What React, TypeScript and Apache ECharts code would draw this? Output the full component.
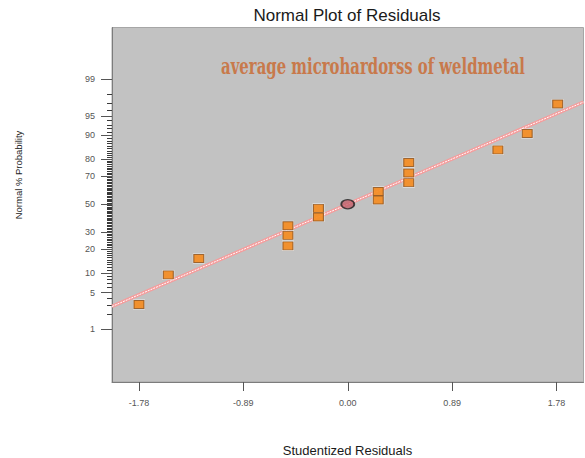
import React, { useEffect, useRef } from "react";
import * as echarts from "echarts";

// Studentized residuals of the runs, in rank order
const residuals = [
  -1.78, -1.53, -1.27, -0.51, -0.51, -0.51, -0.25, -0.25,
  0.26, 0.26, 0.52, 0.52, 0.52, 1.28, 1.53, 1.79,
];
// Normal % probability assigned to each ranked residual
const probabilities = [
  3.1, 9.4, 15.6, 21.9, 28.1, 34.4, 40.6, 46.9,
  53.1, 59.4, 65.6, 71.9, 78.1, 84.4, 90.6, 96.9,
];
// Highlighted centre point
const centreResidual = [0];
const centreProbability = [50];
// Reference line end points
const fitResiduals = [-2.01, 2.01];
const fitProbabilities = [2.85, 97.15];

// Axis ticks
const xTickValues = [-1.78, -0.89, 0, 0.89, 1.78];
const yLabelPercents = [1, 5, 10, 20, 30, 50, 70, 80, 90, 95, 99];
const yMinorPercents = Array.from({ length: 99 }, (_, i) => i + 1);

// Inverse of the standard normal CDF (Acklam's approximation)
function probit(p: number): number {
  const a = [-39.69683028665376, 220.9460984245205, -275.9285104469687, 138.357751867269, -30.66479806614716, 2.506628277459239];
  const b = [-54.47609879822406, 161.5858368580409, -155.6989798598866, 66.80131188771972, -13.28068155288572];
  const c = [-0.007784894002430293, -0.3223964580411365, -2.400758277161838, -2.549671348283508, 4.374664141464968, 2.938163982698783];
  const d = [0.007784695709041462, 0.3224671290700398, 2.445134137142996, 3.754408661907416];
  const plow = 0.02425;
  if (p < plow) {
    const q = Math.sqrt(-2 * Math.log(p));
    return (((((c[0] * q + c[1]) * q + c[2]) * q + c[3]) * q + c[4]) * q + c[5]) /
      ((((d[0] * q + d[1]) * q + d[2]) * q + d[3]) * q + 1);
  }
  if (p <= 1 - plow) {
    const q = p - 0.5;
    const r = q * q;
    return ((((((a[0] * r + a[1]) * r + a[2]) * r + a[3]) * r + a[4]) * r + a[5]) * q) /
      (((((b[0] * r + b[1]) * r + b[2]) * r + b[3]) * r + b[4]) * r + 1);
  }
  const q = Math.sqrt(-2 * Math.log(1 - p));
  return -(((((c[0] * q + c[1]) * q + c[2]) * q + c[3]) * q + c[4]) * q + c[5]) /
    ((((d[0] * q + d[1]) * q + d[2]) * q + d[3]) * q + 1);
}

const toScore = (pct: number) => probit(pct / 100);

export default function App() {
  const ref = useRef<HTMLDivElement>(null);

  useEffect(() => {
    if (!ref.current) return;
    const chart = echarts.init(ref.current, null, { renderer: "svg" });

    const majorZ = yLabelPercents.map(toScore);
    const minorZ = yMinorPercents.map(toScore);
    const points = residuals.map((r, i) => [r, toScore(probabilities[i])]);
    const centre = centreResidual.map((r, i) => [r, toScore(centreProbability[i])]);
    const fit = fitResiduals.map((r, i) => [r, toScore(fitProbabilities[i])]);

    const sans = "'Liberation Sans', Arial, sans-serif";
    const yMin = -3.31;
    const yMax = 3.29;

    chart.setOption({
      animation: false,
      backgroundColor: "#ffffff",
      grid: {
        left: 112,
        top: 27.5,
        right: 1.5,
        bottom: 76,
        show: true,
        backgroundColor: "#c2c2c2",
        borderColor: "#a6a6a6",
        borderWidth: 1,
      },
      xAxis: {
        type: "value",
        min: -2.01,
        max: 2.01,
        axisLine: { show: true, onZero: false, lineStyle: { color: "#7c7c7c", width: 1 } },
        axisTick: {
          show: true,
          customValues: xTickValues,
          length: 9,
          lineStyle: { color: "#555555" },
        },
        axisLabel: {
          customValues: xTickValues,
          formatter: (v: number) => v.toFixed(2),
          fontSize: 9,
          color: "#555555",
          fontFamily: sans,
          margin: 16,
        },
        splitLine: { show: false },
      },
      yAxis: [
        {
          // percentage ticks every 1 %
          type: "value",
          min: yMin,
          max: yMax,
          position: "left",
          axisLine: { show: true, onZero: false, lineStyle: { color: "#7c7c7c", width: 1 } },
          axisTick: {
            show: true,
            interval: 0,
            customValues: minorZ,
            length: 5,
            lineStyle: { color: "#3a3a3a" },
          },
          axisLabel: {
            show: true,
            customValues: minorZ,
            formatter: () => "",
          },
          splitLine: { show: false },
        },
        {
          // labelled percentages
          type: "value",
          min: yMin,
          max: yMax,
          position: "left",
          offset: 0,
          axisLine: { show: false, onZero: false },
          axisTick: {
            show: true,
            customValues: majorZ,
            length: 11,
            lineStyle: { color: "#555555" },
          },
          axisLabel: {
            customValues: majorZ,
            formatter: (v: number) => {
              const i = majorZ.findIndex((z) => Math.abs(z - v) < 1e-6);
              return i >= 0 ? String(yLabelPercents[i]) : "";
            },
            fontSize: 9,
            color: "#555555",
            fontFamily: sans,
            margin: 17,
          },
          splitLine: { show: false },
        },
      ],
      series: [
        {
          type: "line",
          data: fit,
          symbol: "none",
          silent: true,
          lineStyle: { color: "#f59c9c", width: 3.5 },
          z: 2,
        },
        {
          type: "line",
          data: fit,
          symbol: "none",
          silent: true,
          lineStyle: { color: "#ffffff", width: 1, type: [2, 1] },
          z: 3,
        },
        {
          type: "scatter",
          data: points,
          symbol: "rect",
          symbolSize: [12, 10],
          silent: true,
          itemStyle: { color: "rgba(255,255,255,0.85)" },
          z: 4,
        },
        {
          type: "scatter",
          data: points,
          symbol: "rect",
          symbolSize: [10, 8],
          silent: true,
          itemStyle: { color: "#f27a00", borderColor: "#8a4e18", borderWidth: 1 },
          z: 5,
        },
        {
          type: "scatter",
          data: centre,
          symbol: "circle",
          symbolSize: [13, 9],
          silent: true,
          itemStyle: { color: "#c2606c", borderColor: "#1e1e1e", borderWidth: 1.5 },
          z: 6,
        },
      ],
      graphic: [
        {
          type: "text",
          x: 347,
          y: 15,
          style: {
            text: "Normal Plot of Residuals",
            fontSize: 17,
            fontFamily: sans,
            fill: "#1a1a1a",
            textAlign: "center",
            textVerticalAlign: "middle",
          },
        },
        {
          type: "text",
          x: 373,
          y: 66,
          scaleX: 0.93,
          scaleY: 1.35,
          style: {
            text: "average microhardorss of weldmetal",
            fontSize: 16,
            fontWeight: "bold",
            fontFamily: "'DejaVu Serif', serif",
            fill: "#c8794b",
            textAlign: "center",
            textVerticalAlign: "middle",
          },
          z: 10,
        },
        {
          type: "text",
          x: 18,
          y: 175,
          rotation: Math.PI / 2,
          style: {
            text: "Normal % Probability",
            fontSize: 9.5,
            fontFamily: sans,
            fill: "#1a1a1a",
            textAlign: "center",
            textVerticalAlign: "middle",
          },
        },
        {
          type: "text",
          x: 347.5,
          y: 450,
          style: {
            text: "Studentized Residuals",
            fontSize: 13,
            fontFamily: sans,
            fill: "#1a1a1a",
            textAlign: "center",
            textVerticalAlign: "middle",
          },
        },
      ],
    });

    return () => chart.dispose();
  }, []);

  return (
    <div
      ref={ref}
      style={{ position: "fixed", left: 0, top: 0, width: 585, height: 458, background: "#ffffff" }}
    />
  );
}
